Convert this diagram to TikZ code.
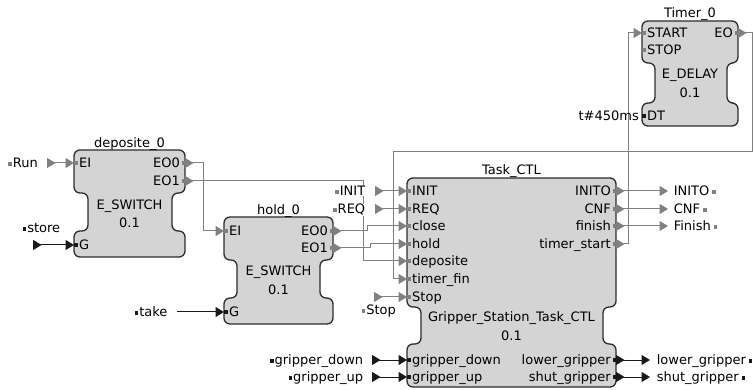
\documentclass[tikz,border=0pt]{standalone}
\usepackage{fontspec}
\setmainfont{DejaVu Sans}
\usetikzlibrary{arrows.meta}
\definecolor{evg}{RGB}{128,128,128}
\definecolor{dtk}{RGB}{25,25,25}
\definecolor{fbfill}{RGB}{212,212,212}
\definecolor{fbline}{RGB}{45,45,45}
\newcommand{\evsq}{\raisebox{1.8pt}{\textcolor{evg}{\rule{3.5pt}{3.5pt}}}}
\newcommand{\dtsq}{\raisebox{1.8pt}{\textcolor{dtk}{\rule{3.5pt}{3.5pt}}}}
\newcommand{\fbblock}[8]{%
  \draw[fbbody] (#1,#3) -- (#2,#3) -- (#2,#4) -- (#6,#4) -- (#6,#7) -- (#2,#7) -- (#2,#8) -- (#1,#8) -- (#1,#7) -- (#5,#7) -- (#5,#4) -- (#1,#4) -- cycle;}
\begin{document}
\begin{tikzpicture}[x=1pt,y=-1pt,
  txt/.style={inner sep=0pt, font=\fontsize{13}{15}\selectfont, yshift=-4.75pt},
  lt/.style={txt, anchor=base west},
  rt/.style={txt, anchor=base east},
  ct/.style={txt, anchor=base},
  tt/.style={inner sep=0pt, font=\fontsize{13}{15}\selectfont, anchor=base},
  wb/.style={fill=white, inner sep=0.6pt},
  fbbody/.style={draw=fbline, fill=fbfill, line width=1.3pt, rounded corners=6pt},
  ew/.style={draw=evg, line width=1pt},
  dw/.style={draw=dtk, line width=1pt},
  bt/.style={{Triangle[reversed,length=8.5pt,width=10pt]}-{Triangle[length=8.5pt,width=10pt]}},
  et/.style={-{Triangle[length=8.5pt,width=10pt]}},
]
\useasboundingbox (0,0) rectangle (753,390);

% ---------- blocks ----------
\fbblock{74}{185}{150}{193}{88}{172}{231}{257}
\fbblock{224}{333}{217}{260}{237}{320}{298}{324}
\fbblock{642}{738}{21}{63}{655}{727}{103}{126}
\fbblock{407}{616}{178}{307}{421}{603}{344}{387}

% ---------- input ports (left edge) ----------
\foreach \n/\x/\y/\c/\t in {
  dep-EI/74/163/evg/EI, dep-G/74/245/dtk/G,
  hold-EI/224/231/evg/EI, hold-G/224/312/dtk/G,
  tim-START/642/33/evg/START, tim-STOP/642/50/evg/STOP, tim-DT/642/116/dtk/DT,
  tc-INIT/407/191/evg/INIT, tc-REQ/407/209/evg/REQ, tc-close/407/226/evg/close,
  tc-hold/407/244/evg/hold, tc-deposite/407/261/evg/deposite,
  tc-timerfin/407/279/evg/timer\_fin, tc-Stop/407/297/evg/Stop,
  tc-gd/407/360/dtk/gripper\_down, tc-gu/407/377/dtk/gripper\_up}{
  \coordinate (\n) at (\x,\y);
  \fill[\c] (\x,\y-1.75) rectangle ++(3.5,3.5);
  \node[lt] (\n-t) at (\x+5,\y) {\t};
}
% ---------- output ports (right edge) ----------
\foreach \n/\x/\y/\c/\t in {
  dep-EO0/185/163/evg/EO0, dep-EO1/185/181/evg/EO1,
  hold-EO0/333/231/evg/EO0, hold-EO1/333/248/evg/EO1,
  tim-EO/738/33/evg/EO,
  tc-INITO/616/191/evg/INITO, tc-CNF/616/209/evg/CNF, tc-finish/616/226/evg/finish,
  tc-ts/616/244/evg/timer\_start,
  tc-lg/616/360/dtk/lower\_gripper, tc-sg/616/377/dtk/shut\_gripper}{
  \coordinate (\n) at (\x,\y);
  \fill[\c] (\x-3.5,\y-1.75) rectangle ++(3.5,3.5);
  \node[rt] (\n-t) at (\x-5,\y) {\t};
}

% ---------- block titles and types ----------
\node[tt] (depTitle) at (129.5,148) {deposite\_0};
\node[ct] (depType) at (129.5,205) {E\_SWITCH};
\node[ct] (depVer) at (129.5,223) {0.1};
\node[tt] (holdTitle) at (278.5,215) {hold\_0};
\node[ct] (holdType) at (278.5,271) {E\_SWITCH};
\node[ct] (holdVer) at (278.5,290) {0.1};
\node[tt] (timTitle) at (690,18) {Timer\_0};
\node[ct] (timType) at (690,74) {E\_DELAY};
\node[ct] (timVer) at (690,93) {0.1};
\node[tt] (tcTitle) at (511.5,175) {Task\_CTL};
\node[ct] (tcType) at (511.5,317) {Gripper\_Station\_Task\_CTL};
\node[ct] (tcVer) at (511.5,336) {0.1};

% ---------- free wire ends ----------
\coordinate (runS) at (47,163);
\coordinate (storeS) at (33,245);
\coordinate (takeS) at (177,312);
\coordinate (initS) at (375,191);
\coordinate (reqS) at (375,209);
\coordinate (stopS) at (374,297);
\coordinate (gdS) at (372,360);
\coordinate (guS) at (372,377);
\coordinate (initoE) at (668,191);
\coordinate (cnfE) at (668,209);
\coordinate (finE) at (668,226);
\coordinate (lgE) at (650,360);
\coordinate (sgE) at (650,377);

% ---------- wires ----------
\draw[ew,bt] (runS) -- (dep-EI);
\draw[dw,bt] (storeS) -- (dep-G);
\draw[dw,et] (takeS) -- (hold-G);
\draw[ew,bt] (dep-EO0) -- (203,163) -- (203,231) -- (hold-EI);
\draw[ew,bt] (dep-EO1) -- (363,181) -- (363,261) -- (tc-deposite);
\draw[ew,bt] (hold-EO0) -- (367,231) -- (367,226) -- (tc-close);
\draw[ew,bt] (hold-EO1) -- (370,248) -- (370,244) -- (tc-hold);
\draw[ew,bt] (tim-EO) -- (752,33) -- (752,152) -- (393,152) -- (393,279) -- (tc-timerfin);
\draw[ew,bt] (tc-ts) -- (628,244) -- (628,33) -- (tim-START);
\draw[ew,bt] (initS) -- (tc-INIT);
\draw[ew,bt] (reqS) -- (tc-REQ);
\draw[ew,bt] (stopS) -- (tc-Stop);
\draw[dw,bt] (gdS) -- (tc-gd);
\draw[dw,bt] (guS) -- (tc-gu);
\draw[ew,bt] (tc-INITO) -- (initoE);
\draw[ew,bt] (tc-CNF) -- (cnfE);
\draw[ew,bt] (tc-finish) -- (finE);
\draw[dw,bt] (tc-lg) -- (lgE);
\draw[dw,bt] (tc-sg) -- (sgE);

% ---------- interface labels ----------
\node[lt,wb] (lRun) at (7.5,163) {\evsq\hspace{1pt}Run};
\node[lt,wb] (lStore) at (22,228) {\dtsq\hspace{1pt}store};
\node[lt,wb] (lTake) at (134,312) {\dtsq\hspace{1pt}take};
\node[rt,wb] (lInit) at (366,191) {\evsq\hspace{1pt}INIT};
\node[rt,wb] (lReq) at (366,209) {\evsq\hspace{1pt}REQ};
\node[lt,wb] (lStop) at (361,310) {\evsq\hspace{1pt}Stop};
\node[rt,wb] (lGd) at (364,360) {\dtsq\hspace{1pt}gripper\_down};
\node[rt,wb] (lGu) at (364,377) {\dtsq\hspace{1pt}gripper\_up};
\node[lt,wb] (lInito) at (673,191) {INITO\hspace{3pt}\evsq};
\node[lt,wb] (lCnf) at (673,209) {CNF\hspace{3pt}\evsq};
\node[lt,wb] (lFin) at (673,226) {Finish\hspace{3pt}\evsq};
\node[lt,wb] (lLg) at (656,360) {lower\_gripper\hspace{3pt}\dtsq};
\node[lt,wb] (lSg) at (656,377) {shut\_gripper\hspace{3pt}\dtsq};
\node[rt] (lDelay) at (639,116) {t\#450ms};
\end{tikzpicture}
\end{document}
